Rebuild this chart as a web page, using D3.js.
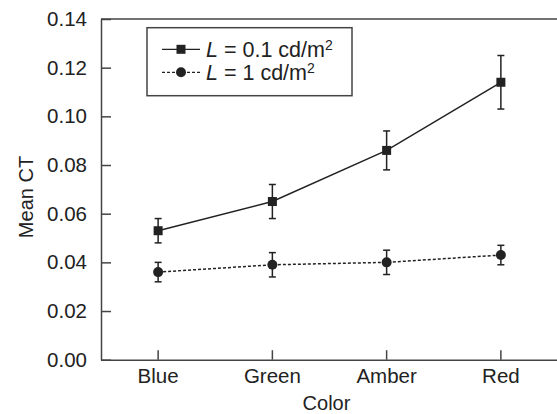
<!DOCTYPE html>
<html lang="en">
	<head>
		<meta charset="utf-8">
		<title>Mean CT by Color</title>
		<script src="https://d3js.org/d3.v7.min.js"></script>
		<style>
			body { margin: 0; background: #fff; }
			text { font-family: "Liberation Sans", Arial, sans-serif; fill: #222; }
		</style>
	</head>
	<body>
		<div id="plotContent"></div>
		<script>
// data
var colors = ["Blue", "Green", "Amber", "Red"];
var yTicks = [0, 0.02, 0.04, 0.06, 0.08, 0.10, 0.12, 0.14];

var lowMean = [0.053, 0.065, 0.086, 0.114];   // L = 0.1 cd/m2
var lowLo   = [0.048, 0.058, 0.078, 0.103];
var lowHi   = [0.058, 0.072, 0.094, 0.125];

var highMean = [0.036, 0.039, 0.040, 0.043];  // L = 1 cd/m2
var highLo   = [0.032, 0.034, 0.035, 0.039];
var highHi   = [0.040, 0.044, 0.045, 0.047];

var series = [
	{ name: "0.1", mean: lowMean, lo: lowLo, hi: lowHi, dash: null, shape: "square" },
	{ name: "1", mean: highMean, lo: highLo, hi: highHi, dash: "3,2", shape: "circle" }
];

var W = 557, H = 414;
var plotLeft = 101, plotRight = 558, plotTop = 19, plotBottom = 359.7;
var ink = "#222";

var svg = d3.select("#plotContent")
	.append("svg")
	.attr("width", W)
	.attr("height", H);

var x = d3.scaleBand()
	.domain(colors)
	.range([plotLeft, plotRight])
	.padding(0);

var y = d3.scaleLinear()
	.domain([0, 0.14])
	.range([plotBottom, plotTop]);

function cx(c) { return x(c) + x.bandwidth() / 2; }

// Y axis
var yAxis = svg.append("g")
	.attr("transform", "translate(" + plotLeft + ",0)")
	.call(d3.axisLeft(y)
		.tickValues(yTicks)
		.tickFormat(d3.format(".2f"))
		.tickSizeInner(-10)
		.tickSizeOuter(0)
		.tickPadding(14));

// X axis
var xAxis = svg.append("g")
	.attr("transform", "translate(0," + plotBottom + ")")
	.call(d3.axisBottom(x)
		.tickSizeInner(-9.5)
		.tickSizeOuter(0)
		.tickPadding(9));

[yAxis, xAxis].forEach(function (g) {
	g.select(".domain").attr("stroke", "#444").attr("stroke-width", 1.5);
	g.selectAll(".tick line").attr("stroke", "#444").attr("stroke-width", 1.5);
	g.selectAll(".tick text")
		.style("font-size", "20.5px")
		.attr("fill", ink)
		.style("font-family", "'Liberation Sans', Arial, sans-serif");
});

// top frame line
svg.append("line")
	.attr("x1", plotLeft).attr("x2", W)
	.attr("y1", y(0.14)).attr("y2", y(0.14))
	.attr("stroke", "#444")
	.attr("stroke-width", 1.5);

// axis titles
svg.append("text")
	.attr("x", (plotLeft + plotRight) / 2 - 3)
	.attr("y", 410)
	.attr("text-anchor", "middle")
	.style("font-size", "20px")
	.text("Color");

svg.append("text")
	.attr("transform", "translate(33," + 197 + ") rotate(-90)")
	.attr("text-anchor", "middle")
	.style("font-size", "20px")
	.text("Mean CT");

// lines, error bars, markers
var line = d3.line()
	.x(function (d, i) { return cx(colors[i]); })
	.y(function (d) { return y(d); });

series.forEach(function (s) {
	svg.append("path")
		.datum(s.mean)
		.attr("d", line)
		.attr("fill", "none")
		.attr("stroke", ink)
		.attr("stroke-width", 1.5)
		.attr("stroke-dasharray", s.dash);

	var eb = svg.append("g");
	colors.forEach(function (c, i) {
		var px = cx(c);
		eb.append("line")
			.attr("x1", px).attr("x2", px)
			.attr("y1", y(s.lo[i])).attr("y2", y(s.hi[i]))
			.attr("stroke", ink).attr("stroke-width", 1.5);
		[s.lo[i], s.hi[i]].forEach(function (v) {
			eb.append("line")
				.attr("x1", px - 3.5).attr("x2", px + 3.5)
				.attr("y1", y(v)).attr("y2", y(v))
				.attr("stroke", ink).attr("stroke-width", 1.5);
		});
		drawMarker(svg, s.shape, px, y(s.mean[i]));
	});
});

function drawMarker(g, shape, px, py) {
	if (shape === "square") {
		g.append("rect")
			.attr("x", px - 4.5).attr("y", py - 4.5)
			.attr("width", 9).attr("height", 9)
			.attr("fill", ink);
	} else {
		g.append("circle")
			.attr("cx", px).attr("cy", py)
			.attr("r", 5)
			.attr("fill", ink);
	}
}

// legend
var legend = svg.append("g");
legend.append("rect")
	.attr("x", 147).attr("y", 27.7)
	.attr("width", 205).attr("height", 68)
	.attr("fill", "#fff")
	.attr("stroke", "#444")
	.attr("stroke-width", 1.5);

series.forEach(function (s, i) {
	var ly = 49.3 + i * 23;
	legend.append("line")
		.attr("x1", 162).attr("x2", 200)
		.attr("y1", ly).attr("y2", ly)
		.attr("stroke", ink)
		.attr("stroke-width", 1.2)
		.attr("stroke-dasharray", s.dash);
	drawMarker(legend, s.shape, 181, ly);

	var t = legend.append("text")
		.attr("x", 206)
		.attr("y", ly + 7.5)
		.style("font-size", "21.5px");
	t.append("tspan").style("font-style", "italic").text("L");
	t.append("tspan").text(" = " + s.name + " cd/m");
	t.append("tspan")
		.attr("dy", -7)
		.style("font-size", "14px")
		.text("2");
});
		</script>
</body>
</html>
